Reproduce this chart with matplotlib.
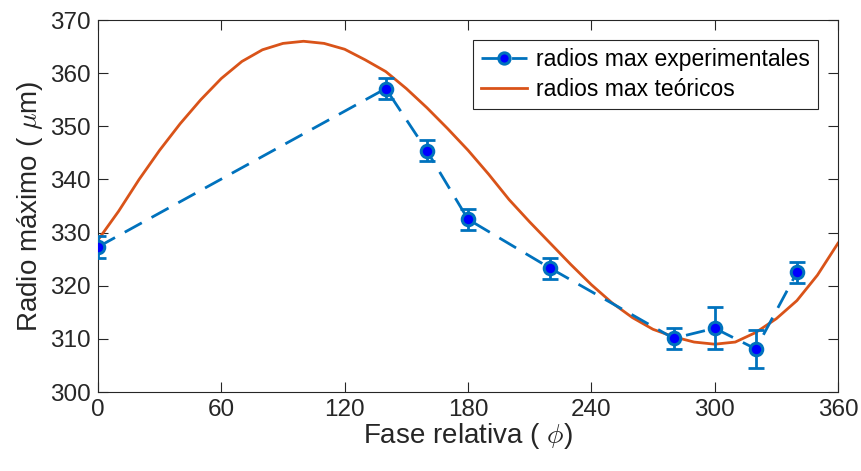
import matplotlib
matplotlib.use('Agg')
import matplotlib.pyplot as plt
import numpy as np

plt.rcParams['font.family'] = ['Liberation Sans', 'DejaVu Sans']
plt.rcParams['mathtext.fontset'] = 'cm'

# experimental maxima with error bars
fase_exp = [0, 140, 160, 180, 220, 280, 300, 320, 340]
radio_exp = [327.3, 357.1, 345.4, 332.5, 323.3, 310.1, 312.0, 308.1, 322.5]
err_exp = [2.0, 2.0, 2.0, 2.0, 2.0, 2.0, 4.0, 3.5, 2.0]

# theoretical maxima
fase_teo = list(range(0, 361, 10))
radio_teo = [328.6, 334.0, 340.0, 345.5, 350.5, 355.0, 359.0, 362.2, 364.4, 365.6,
             366.0, 365.6, 364.5, 362.5, 360.3, 357.1, 353.5, 349.6, 345.5, 341.0,
             336.2, 332.0, 328.0, 324.0, 320.2, 316.8, 314.0, 311.8, 310.4, 309.4,
             309.0, 309.4, 311.2, 313.8, 317.2, 322.0, 328.0]

azul = '#0072BD'
naranja = '#D95319'
gris = '#262626'

fig = plt.figure(figsize=(8.61, 4.71), dpi=100)
ax = fig.add_axes([0.1138, 0.1677, 0.8595, 0.7898])

ax.errorbar(fase_exp, radio_exp, yerr=err_exp, fmt='none', ecolor=azul,
            capsize=6, capthick=2, elinewidth=2, zorder=3)
ax.plot(fase_exp, radio_exp, color=azul, ls='--', lw=2, dashes=(7, 4),
        marker='o', ms=9, mfc='blue', mec=azul, mew=2.2,
        label='radios max experimentales', zorder=4)
ax.plot(fase_teo, radio_teo, color=naranja, lw=2, label='radios max teóricos', zorder=2)

ax.set_xlim(0, 360)
ax.set_ylim(300, 370)
ax.set_xticks(range(0, 361, 60))
ax.set_yticks(range(300, 371, 10))
ax.tick_params(direction='in', top=True, right=True, labelsize=17.5,
               length=7, width=0.8, colors=gris, pad=5)
for s in ax.spines.values():
    s.set_color(gris)
    s.set_linewidth(0.8)

ax.set_xlabel(r'Fase relativa ( $\phi$)', fontsize=20, color=gris, labelpad=0)
ax.set_ylabel(r'Radio máximo ( $\mu$m)', fontsize=20, color=gris, labelpad=4)

leg = ax.legend(loc='upper right', bbox_to_anchor=(0.973, 0.946), fontsize=16.5,
                fancybox=False, framealpha=1, edgecolor=gris,
                borderpad=0.35, handlelength=2.0, handletextpad=0.4,
                labelspacing=0.3, borderaxespad=0, markerscale=0.9)
leg.get_frame().set_linewidth(0.8)

fig.savefig('out.png', dpi=100)
